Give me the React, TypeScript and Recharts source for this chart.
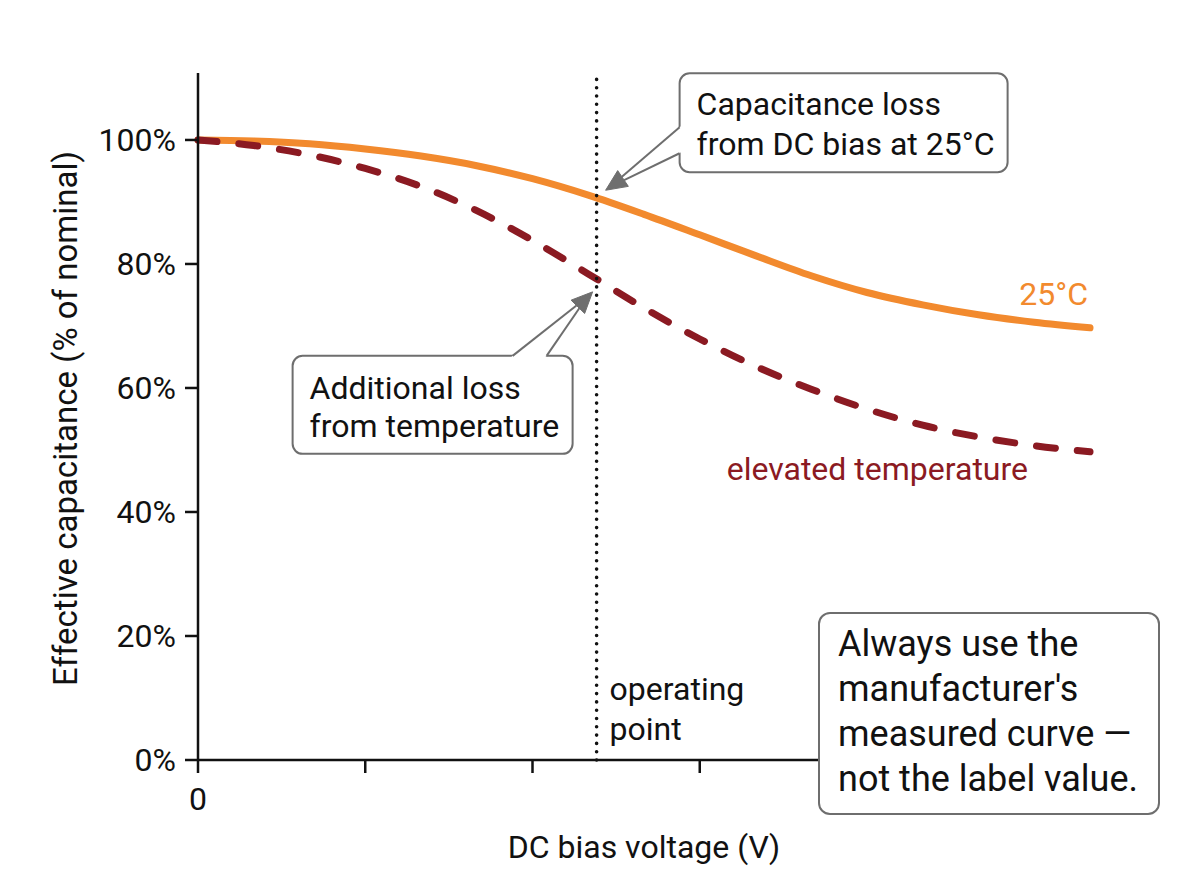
import React from "react";
import { Line, LineChart, ReferenceDot, ReferenceLine, XAxis, YAxis } from "recharts";

// DC bias sweep (V) and effective capacitance, % of nominal
const biasVolts = [0, 1, 2, 3, 4, 5, 6, 7, 8, 9, 10, 11, 12, 13, 14, 15, 16];
const cap25C = [100, 99.85, 99.4, 98.55, 97.4, 95.85, 93.75, 91.1, 88.0, 84.7, 81.35, 78.1, 75.4, 73.4, 71.8, 70.6, 69.7];
const capHot = [100, 99.1, 97.6, 95.4, 92.5, 88.6, 83.8, 78.4, 72.9, 67.9, 63.5, 59.8, 56.6, 54.0, 52.1, 50.7, 49.7];

const xTicks = [0, 3, 6, 9, 12, 15];
const yTicks = [0, 20, 40, 60, 80, 100];

const operatingV = 7.15;
const op25C = 90.6;
const opHot = 77.6;

const biasNote = ["Capacitance loss", "from DC bias at 25°C"];
const tempNote = ["Additional loss", "from temperature"];
const opLabel = ["operating", "point"];
const takeaway = ["Always use the", "manufacturer's", "measured curve —", "not the label value."];

const rows = biasVolts.map((v, i) => ({ v, c25: cap25C[i], hot: capHot[i] }));

const W = 1200;
const H = 896;
const FONT = "Roboto, 'Noto Sans', sans-serif";
const INK = "#111";
const ORANGE = "#F28A2E";
const RED = "#8B1A22";
const GRAY = "#6e6e6e";

type Pt = { x: number; y: number };

// open-bodied arrow leaving a callout box, with a solid head
function Arrow({ tip, b1, b2 }: { tip: Pt; b1: Pt; b2: Pt }) {
  const mx = (b1.x + b2.x) / 2;
  const my = (b1.y + b2.y) / 2;
  const len = Math.hypot(tip.x - mx, tip.y - my);
  const ux = (tip.x - mx) / len;
  const uy = (tip.y - my) / len;
  const nx = -uy;
  const ny = ux;
  const headLen = 21;
  const headHalf = 9.5;
  const neck = 2;
  const hx = tip.x - ux * headLen;
  const hy = tip.y - uy * headLen;
  const side = (b1.x - mx) * nx + (b1.y - my) * ny > 0 ? 1 : -1;
  const n1 = { x: hx + nx * neck * side, y: hy + ny * neck * side };
  const n2 = { x: hx - nx * neck * side, y: hy - ny * neck * side };
  const i1 = { x: b1.x - ux * 3, y: b1.y - uy * 3 };
  const i2 = { x: b2.x - ux * 3, y: b2.y - uy * 3 };
  const poly = [i1, b1, n1, n2, b2, i2].map((p) => `${p.x},${p.y}`).join(" ");
  const head = [
    tip,
    { x: hx + nx * headHalf, y: hy + ny * headHalf },
    { x: hx - nx * headHalf, y: hy - ny * headHalf },
  ]
    .map((p) => `${p.x},${p.y}`)
    .join(" ");
  return (
    <g>
      <polygon points={poly} fill="#fff" stroke="none" />
      <line x1={b1.x} y1={b1.y} x2={n1.x} y2={n1.y} stroke={GRAY} strokeWidth={2} />
      <line x1={b2.x} y1={b2.y} x2={n2.x} y2={n2.y} stroke={GRAY} strokeWidth={2} />
      <polygon points={head} fill={GRAY} stroke={GRAY} strokeWidth={1} strokeLinejoin="round" />
    </g>
  );
}

function BiasCallout(props: any) {
  const { cx, cy } = props;
  const bx = cx + 83;
  const by = cy - 125;
  return (
    <g>
      <rect x={bx} y={by} width={328} height={99} rx={10} fill="#fff" stroke={GRAY} strokeWidth={2} />
      <Arrow tip={{ x: cx + 9, y: cy - 8 }} b1={{ x: bx, y: cy - 71 }} b2={{ x: bx, y: cy - 45 }} />
      {biasNote.map((t, i) => (
        <text key={t} x={bx + 17} y={cy - 83 + i * 40} fontSize={32} fill={INK}>
          {t}
        </text>
      ))}
    </g>
  );
}

function TempCallout(props: any) {
  const { cx, cy } = props;
  const bx = cx - 304;
  const by = cy + 77;
  return (
    <g>
      <rect x={bx} y={by} width={280} height={98} rx={10} fill="#fff" stroke={GRAY} strokeWidth={2} />
      <Arrow tip={{ x: cx - 4, y: cy + 13 }} b1={{ x: cx - 84, y: by }} b2={{ x: cx - 50, y: by }} />
      {tempNote.map((t, i) => (
        <text key={t} x={bx + 17} y={cy + 120 + i * 38} fontSize={32} fill={INK}>
          {t}
        </text>
      ))}
    </g>
  );
}

function Label25(props: any) {
  return (
    <text x={props.cx - 2} y={props.cy - 23} textAnchor="end" fontSize={32} fill={ORANGE}>
      25°C
    </text>
  );
}

function LabelHot(props: any) {
  return (
    <text x={props.cx - 62} y={props.cy + 28} textAnchor="end" fontSize={32} fill={RED}>
      elevated temperature
    </text>
  );
}

export default function App() {
  return (
    <div
      style={{ position: "absolute", left: 0, top: 0, width: W, height: H, background: "#fff", fontFamily: FONT }}
    >
      <LineChart width={W} height={H} data={rows} margin={{ top: 73, right: 110, bottom: 76, left: 98 }}>
        <XAxis
          type="number"
          dataKey="v"
          domain={[0, 16]}
          ticks={xTicks}
          height={60}
          tickSize={13}
          tickMargin={14}
          tickFormatter={(v: number) => (v === 0 ? "0" : "")}
          tick={{ fontSize: 32, fill: INK }}
          axisLine={{ stroke: INK, strokeWidth: 2.5 }}
          tickLine={{ stroke: INK, strokeWidth: 2.5 }}
          label={{
            content: (p: any) => (
              <text
                x={p.viewBox.x + p.viewBox.width / 2}
                y={p.viewBox.y + 98}
                textAnchor="middle"
                fontSize={32}
                fill={INK}
              >
                DC bias voltage (V)
              </text>
            ),
          }}
        />
        <YAxis
          type="number"
          domain={[0, 110.8]}
          ticks={yTicks}
          width={100}
          tickSize={13}
          tickMargin={9}
          tickFormatter={(v: number) => `${v}%`}
          tick={{ fontSize: 32, fill: INK }}
          axisLine={{ stroke: INK, strokeWidth: 2.5 }}
          tickLine={{ stroke: INK, strokeWidth: 2.5 }}
          label={{
            content: (p: any) => {
              const x = p.viewBox.x - 21;
              const y = p.viewBox.y + p.viewBox.height / 2 + 2;
              return (
                <text x={x} y={y} transform={`rotate(-90 ${x} ${y})`} textAnchor="middle" fontSize={33} fill={INK}>
                  Effective capacitance (% of nominal)
                </text>
              );
            },
          }}
        />
        <Line
          type="monotone"
          dataKey="c25"
          stroke={ORANGE}
          strokeWidth={7}
          strokeLinecap="round"
          dot={false}
          isAnimationActive={false}
        />
        <Line
          type="monotone"
          dataKey="hot"
          stroke={RED}
          strokeWidth={7}
          strokeDasharray="19 22"
          strokeLinecap="round"
          dot={false}
          isAnimationActive={false}
        />
        <ReferenceLine
          x={operatingV}
          stroke={INK}
          strokeWidth={3.6}
          strokeDasharray="0 8.3"
          strokeLinecap="round"
          label={{
            content: (p: any) => (
              <g>
                {opLabel.map((t, i) => (
                  <text
                    key={t}
                    x={p.viewBox.x + 13}
                    y={p.viewBox.y + p.viewBox.height - 60 + i * 40}
                    fontSize={32}
                    fill={INK}
                  >
                    {t}
                  </text>
                ))}
              </g>
            ),
          }}
        />
        <ReferenceDot x={operatingV} y={op25C} r={0} shape={BiasCallout} />
        <ReferenceDot x={operatingV} y={opHot} r={0} shape={TempCallout} />
        <ReferenceDot x={16} y={cap25C[16]} r={0} shape={Label25} />
        <ReferenceDot x={16} y={capHot[16]} r={0} shape={LabelHot} />
      </LineChart>
      <div
        style={{
          position: "absolute",
          left: 818,
          top: 612,
          width: 342,
          height: 203,
          boxSizing: "border-box",
          border: `2px solid ${GRAY}`,
          borderRadius: 12,
          background: "#fff",
          padding: "8px 0 0 18px",
          fontSize: 36,
          lineHeight: "45px",
          color: INK,
          whiteSpace: "nowrap",
        }}
      >
        {takeaway.map((t) => (
          <div key={t}>{t}</div>
        ))}
      </div>
    </div>
  );
}
